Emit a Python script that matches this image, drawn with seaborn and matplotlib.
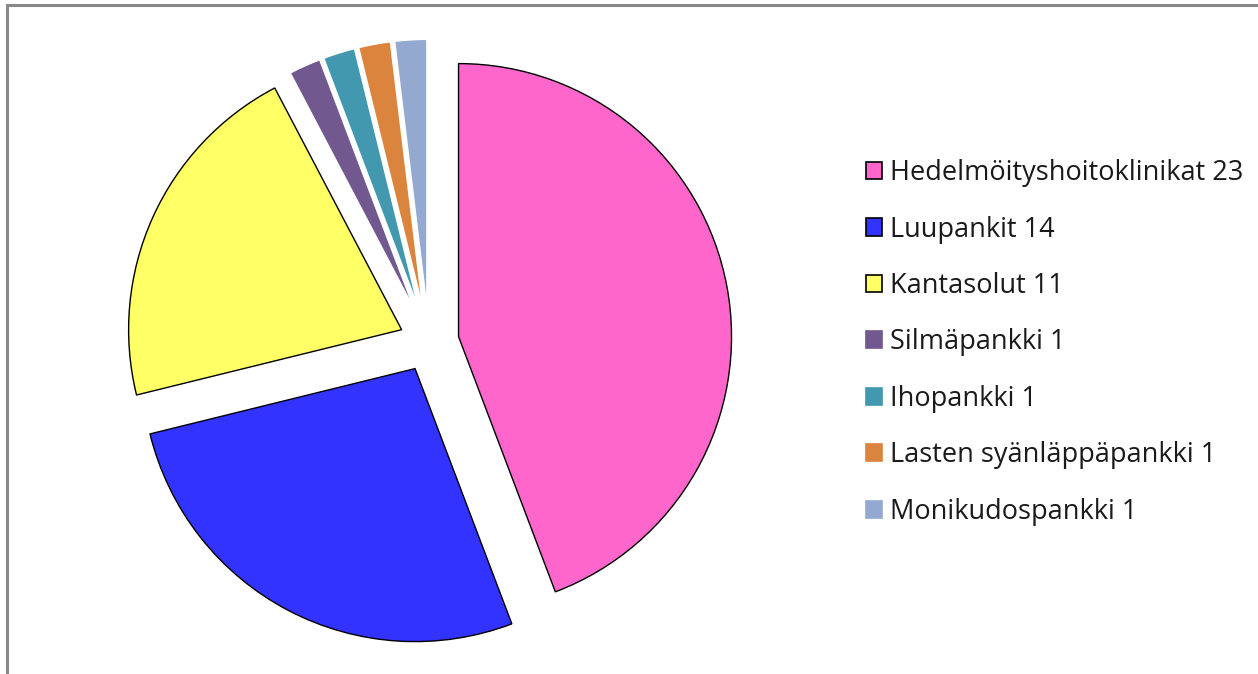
import matplotlib.pyplot as plt
import seaborn as sns
from matplotlib.lines import Line2D
from matplotlib.patches import Patch

# data
categories = ['Hedelmöityshoitoklinikat', 'Luupankit', 'Kantasolut', 'Silmäpankki',
              'Ihopankki', 'Lasten syänläppäpankki', 'Monikudospankki']
counts = [23, 14, 11, 1, 1, 1, 1]
colors = ['#FF66CC', '#3333FF', '#FFFF66', '#71588F', '#4198AF', '#DB843D', '#93A9CF']

sns.set_theme(style='white')
plt.rcParams['font.family'] = ['Open Sans', 'DejaVu Sans']

fig = plt.figure(figsize=(12.58, 6.74), dpi=100)
ax = fig.add_axes([0, 0, 1, 1])

wedges, _ = ax.pie(counts, colors=sns.color_palette(colors), startangle=90,
                   counterclock=False, explode=[0.11] * len(counts))
for i, w in enumerate(wedges):
    if i < 3:
        w.set_edgecolor('black')
        w.set_linewidth(1.0)
    else:
        w.set_edgecolor('white')
        w.set_linewidth(1.5)

# place pie: center at (429, 342) px, radius 273 px
R, cx, cy = 273.0, 429.0, 342.0
ax.set_aspect('auto')
ax.set_xlim(-cx / R, (1258 - cx) / R)
ax.set_ylim(-(674 - cy) / R, cy / R)
ax.axis('off')

handles = []
for i, c in enumerate(colors):
    handles.append(Patch(facecolor=c, edgecolor='black' if i < 3 else c, linewidth=1.2))
labels = [f'{n} {v}' for n, v in zip(categories, counts)]
fig.legend(handles, labels, loc='center left', bbox_to_anchor=(0.688, 0.492),
           frameon=False, fontsize=19.5, borderpad=0, borderaxespad=0,
           handlelength=0.6, handleheight=0.6, handletextpad=0.32,
           labelspacing=1.05, labelcolor='#1a1a1a')

# grey frame on top and left edges
fig.add_artist(Line2D([7 / 1258, 1], [1 - 5 / 674, 1 - 5 / 674], color='#888888', lw=2.2))
fig.add_artist(Line2D([7 / 1258, 7 / 1258], [0, 1 - 5 / 674], color='#888888', lw=2.2))

fig.savefig('out.png', dpi=100)
